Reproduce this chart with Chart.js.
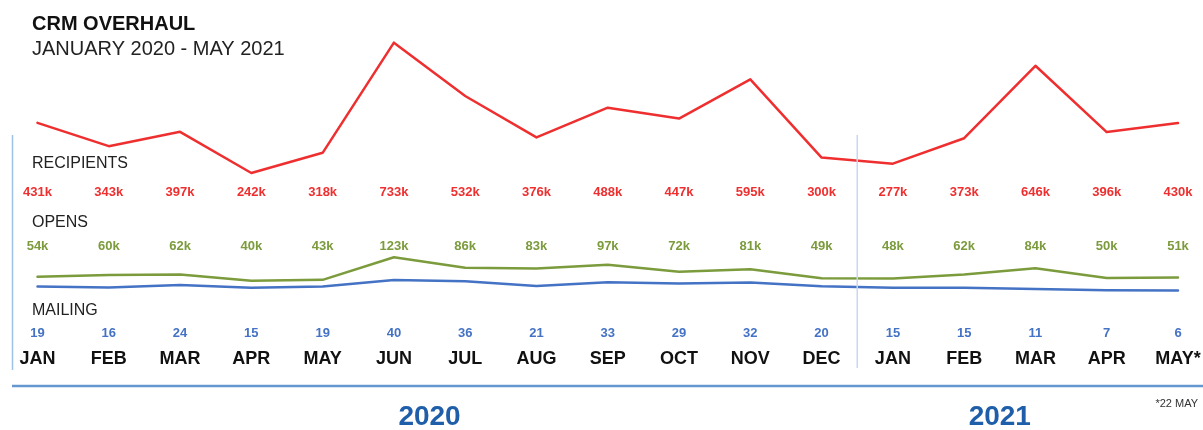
<!DOCTYPE html>
<html>
<head>
<meta charset="utf-8">
<script src="https://cdn.jsdelivr.net/npm/chart.js@4.4.1/dist/chart.umd.min.js"></script>
<style>
    html, body { margin: 0; padding: 0; background: #fff; }
    #wrap { width: 1203px; height: 430px; position: relative; }
</style>
</head>
<body>
<div id="wrap"><canvas id="crmChart" width="1203" height="430"></canvas></div>
<script>
// data
const months = ["JAN", "FEB", "MAR", "APR", "MAY", "JUN", "JUL", "AUG", "SEP", "OCT", "NOV", "DEC",
    "JAN", "FEB", "MAR", "APR", "MAY*"];
const recipients = [431, 343, 397, 242, 318, 733, 532, 376, 488, 447, 595, 300, 277, 373, 646, 396, 430]; // thousands
const opens = [54, 60, 62, 40, 43, 123, 86, 83, 97, 72, 81, 49, 48, 62, 84, 50, 51]; // thousands
const mailings = [19, 16, 24, 15, 19, 40, 36, 21, 33, 29, 32, 20, 15, 15, 11, 7, 6];
const years = ["2020", "2021"];

const FONT = "'Liberation Sans', Arial, Helvetica, sans-serif";
const RED = "#ef2f2f";
const GREEN = "#7b9b3c";
const BLUE = "#4472c4";

// Draws the titles, row captions, value rows, month row and year footer
const decorPlugin = {
    id: "decor",
    afterDatasetsDraw(chart) {
        const ctx = chart.ctx;
        const x = chart.scales.x;

        ctx.save();
        ctx.textBaseline = "middle";

        // title
        ctx.textAlign = "left";
        ctx.fillStyle = "#111";
        ctx.font = "bold 20px " + FONT;
        ctx.fillText("CRM OVERHAUL", 32, 24);
        ctx.fillStyle = "#222";
        ctx.font = "20px " + FONT;
        ctx.fillText("JANUARY 2020 - MAY 2021", 32, 49);

        // row captions
        ctx.font = "16px " + FONT;
        ctx.fillText("RECIPIENTS", 32, 164);
        ctx.fillText("OPENS", 32, 222.5);
        ctx.fillText("MAILING", 32, 311);

        // frame lines
        ctx.lineWidth = 1.5;
        ctx.strokeStyle = "#9dc3e6";
        ctx.beginPath();
        ctx.moveTo(12.5, 135);
        ctx.lineTo(12.5, 370);
        ctx.stroke();

        const split = (x.getPixelForValue(11) + x.getPixelForValue(12)) / 2;
        ctx.strokeStyle = "#c6d9ef";
        ctx.beginPath();
        ctx.moveTo(split, 135);
        ctx.lineTo(split, 368);
        ctx.stroke();

        ctx.lineWidth = 2.5;
        ctx.strokeStyle = "#6496cf";
        ctx.beginPath();
        ctx.moveTo(12, 386);
        ctx.lineTo(1203, 386);
        ctx.stroke();

        // value rows and months
        ctx.textAlign = "center";
        months.forEach((m, i) => {
            const px = x.getPixelForValue(i);
            ctx.font = "bold 13px " + FONT;
            ctx.fillStyle = RED;
            ctx.fillText(recipients[i] + "k", px, 192);
            ctx.fillStyle = GREEN;
            ctx.fillText(opens[i] + "k", px, 246);
            ctx.fillStyle = BLUE;
            ctx.fillText(String(mailings[i]), px, 333);
            ctx.font = "bold 18px " + FONT;
            ctx.fillStyle = "#111";
            ctx.fillText(m, px, 359);
        });

        // years
        ctx.font = "bold 28px " + FONT;
        ctx.fillStyle = "#1f5ea8";
        ctx.fillText(years[0], x.getPixelForValue(5.5), 417);
        ctx.fillText(years[1], x.getPixelForValue(13.5), 417);

        ctx.font = "11px " + FONT;
        ctx.fillStyle = "#333";
        ctx.textAlign = "right";
        ctx.fillText("*22 MAY", 1198, 404);

        ctx.restore();
    }
};

const lineStyle = {
    borderWidth: 2.5,
    pointRadius: 0,
    pointHoverRadius: 0,
    tension: 0,
    borderJoinStyle: "round",
    borderCapStyle: "round",
    clip: false
};

new Chart(document.getElementById("crmChart"), {
    type: "line",
    data: {
        labels: months,
        datasets: [
            { ...lineStyle, label: "Recipients", data: recipients, borderColor: RED, yAxisID: "yRec" },
            { ...lineStyle, label: "Opens", data: opens, borderColor: GREEN, yAxisID: "yOpen" },
            { ...lineStyle, label: "Mailing", data: mailings, borderColor: BLUE, yAxisID: "yMail" }
        ]
    },
    options: {
        responsive: false,
        animation: false,
        events: [],
        layout: { padding: { left: 37.5, right: 25, top: 20, bottom: 130 } },
        plugins: {
            legend: { display: false },
            tooltip: { enabled: false }
        },
        scales: {
            x: { display: false, offset: false },
            // each series has its own band of the picture
            yRec: { display: false, min: -236.6, max: 818.4 },
            yOpen: { display: false, min: -28.4, max: 964.5 },
            yMail: { display: false, min: -25, max: 888.3 }
        }
    },
    plugins: [decorPlugin]
});
</script>
</body>
</html>
